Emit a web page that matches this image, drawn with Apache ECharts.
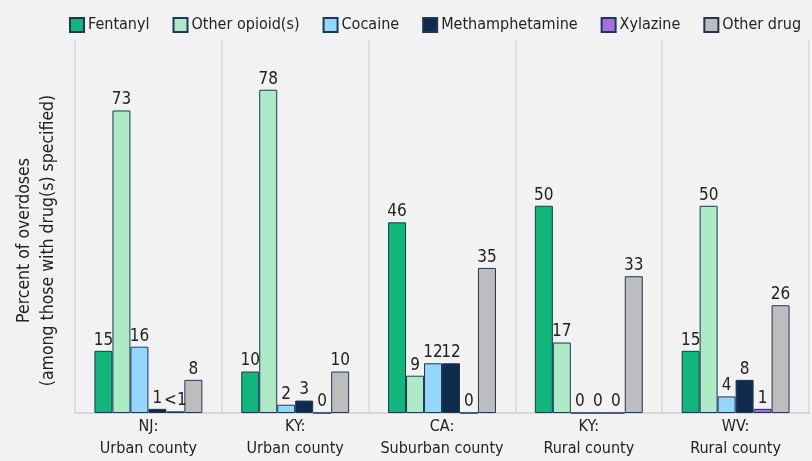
<!DOCTYPE html>
<html><head><meta charset="utf-8">
<script src="https://cdn.jsdelivr.net/npm/echarts@6/dist/echarts.min.js"></script>
<style>html,body{margin:0;padding:0;background:#f2f2f2;}#c{width:812px;height:461px;}</style>
</head><body><div id="c"></div>
<script>
const categories = ["NJ:\nUrban county", "KY:\nUrban county", "CA:\nSuburban county", "KY:\nRural county", "WV:\nRural county"];
const seriesNames = ["Fentanyl", "Other opioid(s)", "Cocaine", "Methamphetamine", "Xylazine", "Other drug"];
const fentanyl = [15, 10, 46, 50, 15];
const otherOpioids = [73, 78, 9, 17, 50];
const cocaine = [16, 2, 12, 0, 4];
const meth = [1, 3, 12, 0, 8];
const xylazine = [0.4, 0, 0, 0, 1];
const otherDrug = [8, 10, 35, 33, 26];
const xylazineLabels = ["<1", "0", "0", "0", "1"];
const colors = ["#10b67a", "#aeeac6", "#93d6fe", "#0f2b4b", "#a56ee0", "#bdbdbd"];
const allData = [fentanyl, otherOpioids, cocaine, meth, xylazine, otherDrug];
const FONT = "'DejaVu Sans Condensed','Liberation Sans Narrow',sans-serif";

const chart = echarts.init(document.getElementById('c'));
chart.setOption({
  backgroundColor: '#f2f2f2',
  animation: false,
  textStyle: { fontFamily: FONT },
  legend: {
    top: 17, left: 69, padding: 0,
    icon: 'rect',
    itemWidth: 14, itemHeight: 14, itemGap: 23,
    textStyle: { fontFamily: FONT, fontSize: 16, color: '#222', padding: [0,0,0,-1] },
    data: seriesNames
  },
  grid: { left: 75, right: 3, top: 40, bottom: 48, containLabel: false, outerBoundsMode: 'none' },
  xAxis: {
    type: 'category', data: categories,
    axisLine: { show: true, lineStyle: { color: '#d6d6d6', width: 2 } },
    axisTick: { show: false },
    splitLine: { show: true, interval: 0, lineStyle: { color: '#d9d9d9', width: 1.5 } },
    axisLabel: { interval: 0, fontFamily: FONT, fontSize: 16, color: '#222', lineHeight: 22, margin: 3 }
  },
  yAxis: {
    type: 'value', min: 0, max: 90,
    name: 'Percent of overdoses\n(among those with drug(s) specified)',
    nameLocation: 'middle', nameGap: 15, nameRotate: 90,
    nameTextStyle: { fontFamily: FONT, fontSize: 17.5, color: '#222', lineHeight: 24, padding: [0, 28, 0, 0] },
    axisLabel: { show: false }, axisTick: { show: false },
    axisLine: { show: false }, splitLine: { show: false }
  },
  series: seriesNames.map((name, i) => ({
    name, type: 'bar', data: allData[i],
    barGap: '0%', barCategoryGap: '26.5%',
    itemStyle: { color: colors[i], borderColor: '#1d3756', borderWidth: 1 },
    label: {
      show: true, position: 'top', distance: 2,
      fontFamily: FONT, fontSize: 17, color: '#222',
      formatter: i === 4 ? (p => xylazineLabels[p.dataIndex]) : '{c}'
    }
  }))
});
</script></body></html>
